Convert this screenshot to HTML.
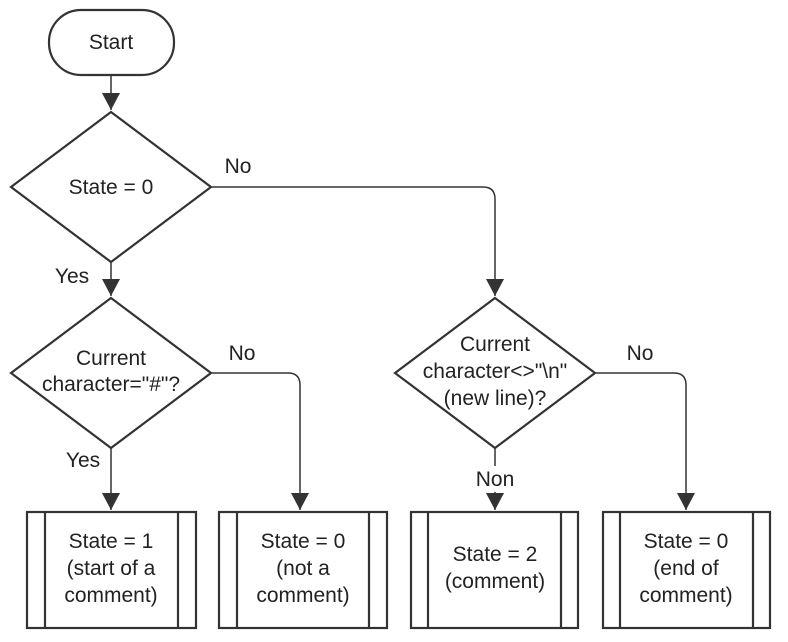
<!DOCTYPE html>
<html><head><style>body{margin:0;background:#fff}svg{display:block}text{font-family:"Liberation Sans",Arial,sans-serif;font-size:21px;fill:#222;text-anchor:middle}</style></head>
<body>
<svg width="788" height="642" viewBox="0 0 788 642" xmlns="http://www.w3.org/2000/svg">
<defs><marker id="a" markerWidth="20" markerHeight="20" refX="17" refY="9" orient="auto" markerUnits="userSpaceOnUse"><path d="M0,0 L17,9 L0,18 Z" fill="#333"/></marker></defs>
<g fill="none" stroke="#333" stroke-width="1.5">
<path d="M111,76 V110" marker-end="url(#a)"/>
<path d="M111,262 V296" marker-end="url(#a)"/>
<path d="M111,448 V510" marker-end="url(#a)"/>
<path d="M211,187 H483 Q495,187 495,199 V296" marker-end="url(#a)"/>
<path d="M211,373 H288 Q300,373 300,385 V510" marker-end="url(#a)"/>
<path d="M595,373 H674 Q686,373 686,385 V510" marker-end="url(#a)"/>
<path d="M495,448 V466"/>
<path d="M495,492 V510" marker-end="url(#a)"/>
</g>
<g fill="#fff" stroke="#333" stroke-width="2.2">
<rect x="49" y="10" width="125" height="65" rx="32"/>
<polygon points="111,112 211,187 111,262 11,187"/>
<polygon points="111,298 211,373 111,448 11,373"/>
<polygon points="495,298 595,373 495,448 395,373"/>
<rect x="27" y="512" width="169" height="116"/><path d="M45,512V628M178,512V628"/>
<rect x="219" y="512" width="168" height="116"/><path d="M237,512V628M369,512V628"/>
<rect x="411" y="512" width="167" height="116"/><path d="M428,512V628M561,512V628"/>
<rect x="603" y="512" width="167" height="116"/><path d="M620,512V628M753,512V628"/>
</g>
<text x="111" y="49">Start</text>
<text x="111" y="194">State = 0</text>
<text x="238" y="173">No</text>
<text x="72" y="283">Yes</text>
<text x="111" y="365">Current</text>
<text x="111" y="391">character="#"?</text>
<text x="242" y="360">No</text>
<text x="83" y="467">Yes</text>
<text x="495" y="351">Current</text>
<text x="495" y="378">character&lt;&gt;"\n"</text>
<text x="495" y="405">(new line)?</text>
<text x="640" y="360">No</text>
<text x="495" y="486">Non</text>
<text x="111" y="548">State = 1</text>
<text x="111" y="575">(start of a</text>
<text x="111" y="602">comment)</text>
<text x="303" y="548">State = 0</text>
<text x="303" y="575">(not a</text>
<text x="303" y="602">comment)</text>
<text x="495" y="561">State = 2</text>
<text x="495" y="588">(comment)</text>
<text x="686" y="548">State = 0</text>
<text x="686" y="575">(end of</text>
<text x="686" y="602">comment)</text>
</svg>
</body></html>
